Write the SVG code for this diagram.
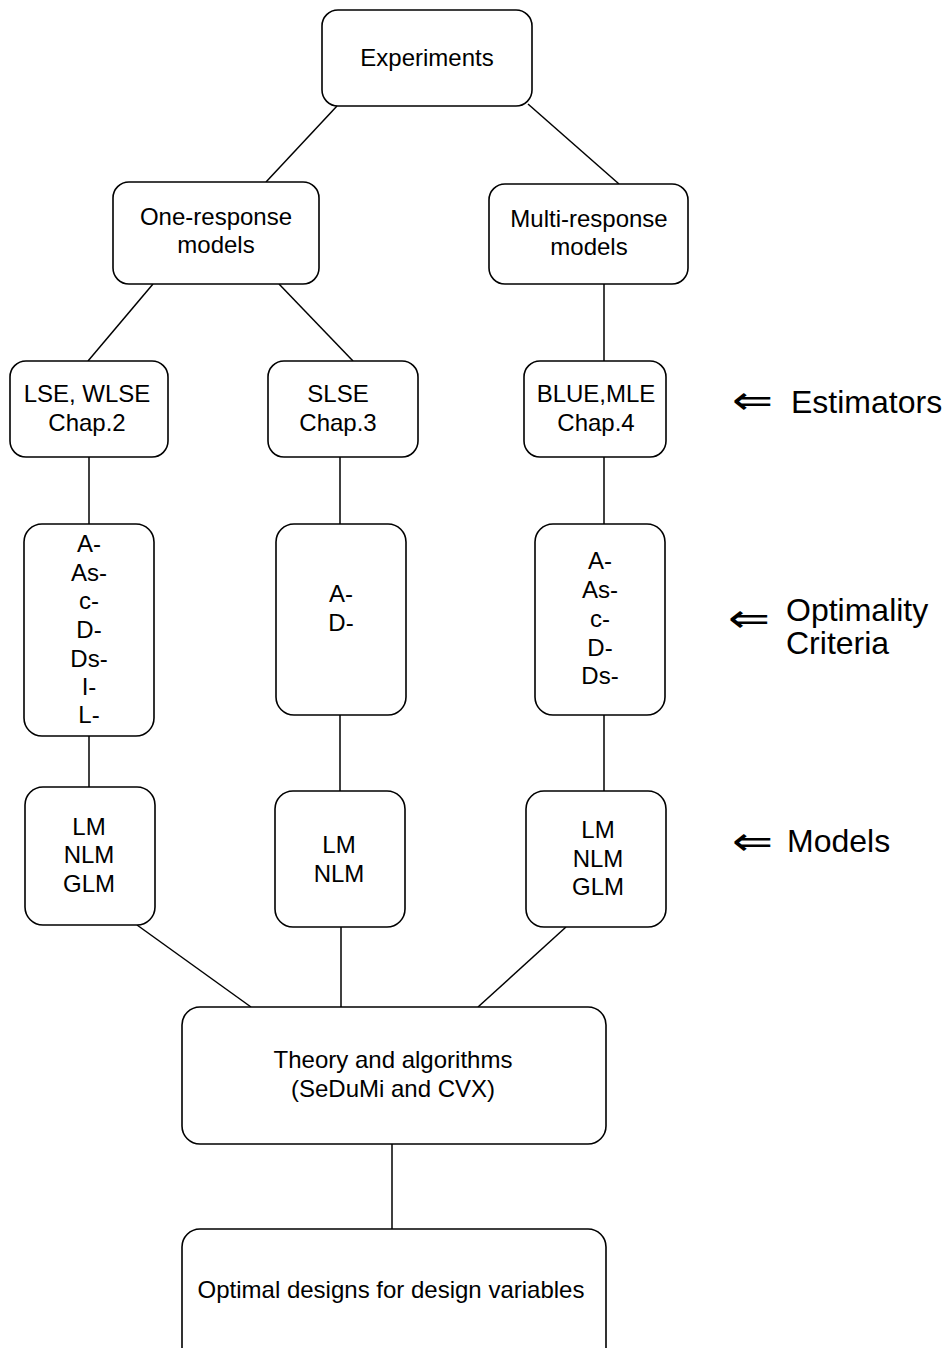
<svg xmlns="http://www.w3.org/2000/svg" width="947" height="1348" viewBox="0 0 947 1348">
<style>
.box{fill:#fff;stroke:#000;stroke-width:1.6}
.t{font-family:"Liberation Sans",Arial,sans-serif;font-size:24px;text-anchor:middle;fill:#000}
.lbl{font-family:"Liberation Sans",Arial,sans-serif;font-size:32px;fill:#000}
.arr{font-family:"DejaVu Sans",sans-serif;font-size:40px;fill:#000}
#connectors line{stroke:#000;stroke-width:1.5}
</style>
<rect width="947" height="1348" fill="#fff"/>
<g id="connectors">
<line x1="337" y1="106" x2="266" y2="182"/>
<line x1="528" y1="104" x2="619" y2="184"/>
<line x1="153" y1="284" x2="88" y2="361"/>
<line x1="279" y1="284" x2="353" y2="361"/>
<line x1="604" y1="284" x2="604" y2="361"/>
<line x1="89" y1="457" x2="89" y2="524"/>
<line x1="340" y1="457" x2="340" y2="524"/>
<line x1="604" y1="457" x2="604" y2="524"/>
<line x1="89" y1="736" x2="89" y2="787"/>
<line x1="340" y1="715" x2="340" y2="791"/>
<line x1="604" y1="715" x2="604" y2="791"/>
<line x1="137" y1="925" x2="251" y2="1007"/>
<line x1="341" y1="927" x2="341" y2="1007"/>
<line x1="566" y1="927" x2="478" y2="1007"/>
<line x1="392" y1="1144" x2="392" y2="1229"/>
</g>
<g id="experiments"><rect class="box" x="322" y="10" width="210" height="96" rx="16"/><text class="t" x="427" y="66">Experiments</text></g>
<g id="one-response"><rect class="box" x="113" y="182" width="206" height="102" rx="16"/><text class="t" x="216" y="225">One-response</text><text class="t" x="216" y="253">models</text></g>
<g id="multi-response"><rect class="box" x="489" y="184" width="199" height="100" rx="16"/><text class="t" x="589" y="227">Multi-response</text><text class="t" x="589" y="255">models</text></g>
<g id="lse"><rect class="box" x="10" y="361" width="158" height="96" rx="16"/><text class="t" x="87" y="402">LSE, WLSE</text><text class="t" x="87" y="431">Chap.2</text></g>
<g id="slse"><rect class="box" x="268" y="361" width="150" height="96" rx="16"/><text class="t" x="338" y="402">SLSE</text><text class="t" x="338" y="431">Chap.3</text></g>
<g id="blue"><rect class="box" x="524" y="361" width="142" height="96" rx="16"/><text class="t" x="596" y="402">BLUE,MLE</text><text class="t" x="596" y="431">Chap.4</text></g>
<g id="criteria-left"><rect class="box" x="24" y="524" width="130" height="212" rx="18"/>
<text class="t" x="89" y="552">A-</text><text class="t" x="89" y="581">As-</text><text class="t" x="89" y="609">c-</text><text class="t" x="89" y="638">D-</text><text class="t" x="89" y="667">Ds-</text><text class="t" x="89" y="695">I-</text><text class="t" x="89" y="723">L-</text></g>
<g id="criteria-middle"><rect class="box" x="276" y="524" width="130" height="191" rx="18"/>
<text class="t" x="341" y="602">A-</text><text class="t" x="341" y="631">D-</text></g>
<g id="criteria-right"><rect class="box" x="535" y="524" width="130" height="191" rx="18"/>
<text class="t" x="600" y="569">A-</text><text class="t" x="600" y="598">As-</text><text class="t" x="600" y="627">c-</text><text class="t" x="600" y="656">D-</text><text class="t" x="600" y="684">Ds-</text></g>
<g id="models-left"><rect class="box" x="25" y="787" width="130" height="138" rx="18"/>
<text class="t" x="89" y="835">LM</text><text class="t" x="89" y="863">NLM</text><text class="t" x="89" y="892">GLM</text></g>
<g id="models-middle"><rect class="box" x="275" y="791" width="130" height="136" rx="18"/>
<text class="t" x="339" y="853">LM</text><text class="t" x="339" y="882">NLM</text></g>
<g id="models-right"><rect class="box" x="526" y="791" width="140" height="136" rx="18"/>
<text class="t" x="598" y="838">LM</text><text class="t" x="598" y="867">NLM</text><text class="t" x="598" y="895">GLM</text></g>
<g id="theory"><rect class="box" x="182" y="1007" width="424" height="137" rx="18"/>
<text class="t" x="393" y="1068">Theory and algorithms</text><text class="t" x="393" y="1097">(SeDuMi and CVX)</text></g>
<g id="optimal"><rect class="box" x="182" y="1229" width="424" height="140" rx="18"/>
<text class="t" x="391" y="1298">Optimal designs for design variables</text></g>
<g id="label-estimators"><text class="arr" x="732" y="414" textLength="41" lengthAdjust="spacingAndGlyphs">⇐</text><text class="lbl" x="791" y="413">Estimators</text></g>
<g id="label-criteria"><text class="arr" x="728" y="632" textLength="42" lengthAdjust="spacingAndGlyphs">⇐</text><text class="lbl" x="786" y="621">Optimality</text><text class="lbl" x="786" y="654">Criteria</text></g>
<g id="label-models"><text class="arr" x="732" y="855" textLength="41" lengthAdjust="spacingAndGlyphs">⇐</text><text class="lbl" x="787" y="852">Models</text></g>
</svg>
